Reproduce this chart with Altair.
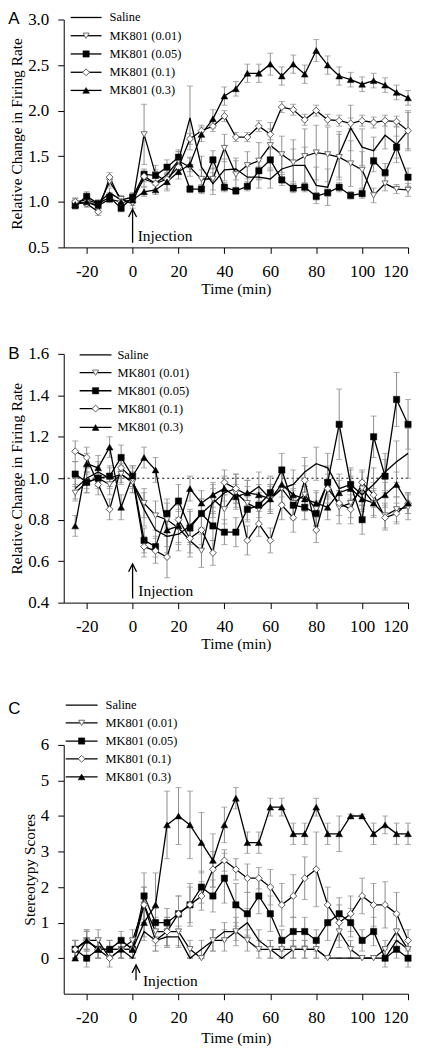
import altair as alt
import pandas as pd

SERIF = "Liberation Serif"
SANS = "Liberation Sans"
GRAY = "#8c8c8c"

TIME = [-25, -20, -15, -10, -5, 0, 5, 10, 15, 20, 25, 30, 35, 40, 45,
        50, 55, 60, 65, 70, 75, 80, 85, 90, 95, 100, 105, 110, 115, 120]
SERIES = ["Saline", "MK801 (0.01)", "MK801 (0.05)", "MK801 (0.1)", "MK801 (0.3)"]
X_TICKS = [-20, 0, 20, 40, 60, 80, 100, 120]

# ---------------- Panel A : relative change in firing rate ----------------
A_SAL = [1.00, 1.02, 0.98, 1.10, 1.02, 1.05, 1.25, 1.20, 1.30, 1.45, 1.92, 1.38, 1.20, 1.35, 1.36,
         1.27, 1.27, 1.25, 1.36, 1.40, 1.40, 1.18, 1.16, 1.52, 1.81, 1.60, 1.56, 1.73, 1.63, 1.78]
A_01 = [0.98, 1.00, 0.95, 1.22, 1.03, 0.98, 1.74, 1.30, 1.22, 1.45, 1.38, 1.25, 1.25, 1.59, 1.30,
        1.40, 1.45, 1.62, 1.52, 1.43, 1.50, 1.54, 1.52, 1.49, 1.42, 1.35, 1.07, 1.20, 1.14, 1.13]
A_05 = [0.96, 1.06, 0.98, 1.05, 0.93, 1.05, 1.30, 1.29, 1.38, 1.49, 1.14, 1.14, 1.46, 1.16, 1.12,
        1.17, 1.34, 1.46, 1.24, 1.15, 1.16, 1.06, 1.10, 1.16, 1.07, 1.09, 1.45, 1.32, 1.60, 1.27]
A_1 = [1.00, 0.98, 0.89, 1.27, 1.00, 1.00, 1.28, 1.20, 1.25, 1.38, 1.69, 1.78, 1.83, 1.94, 1.71,
       1.71, 1.83, 1.74, 2.04, 2.01, 1.90, 2.00, 1.90, 1.89, 1.86, 1.89, 1.87, 1.89, 1.88, 1.78]
A_3 = [0.97, 1.00, 0.96, 1.03, 1.00, 1.02, 1.11, 1.13, 1.22, 1.33, 1.41, 1.74, 1.91, 2.16, 2.24,
       2.41, 2.41, 2.51, 2.38, 2.51, 2.40, 2.66, 2.50, 2.38, 2.34, 2.29, 2.33, 2.28, 2.20, 2.14]
A_SAL_E = [0.04, 0.05, 0.04, 0.05, 0.04, 0.04, 0.08, 0.08, 0.10, 0.10, 0.35, 0.12, 0.12, 0.12, 0.12,
           0.12, 0.12, 0.10, 0.15, 0.18, 0.20, 0.20, 0.20, 0.25, 0.25, 0.20, 0.15, 0.15, 0.20, 0.22]
A_01_E = [0.05, 0.05, 0.04, 0.05, 0.04, 0.05, 0.33, 0.10, 0.10, 0.10, 0.10, 0.10, 0.12, 0.15, 0.15,
          0.15, 0.20, 0.25, 0.20, 0.25, 0.30, 0.30, 0.30, 0.25, 0.25, 0.20, 0.08, 0.08, 0.05, 0.07]
A_05_E = [0.04, 0.05, 0.04, 0.05, 0.04, 0.05, 0.06, 0.06, 0.08, 0.08, 0.04, 0.05, 0.10, 0.05, 0.04,
          0.05, 0.10, 0.12, 0.06, 0.05, 0.05, 0.04, 0.04, 0.05, 0.04, 0.05, 0.12, 0.10, 0.12, 0.10]
A_1_E = [0.04, 0.04, 0.04, 0.05, 0.04, 0.04, 0.06, 0.06, 0.06, 0.06, 0.06, 0.06, 0.06, 0.06, 0.05,
         0.05, 0.06, 0.06, 0.06, 0.06, 0.06, 0.06, 0.06, 0.06, 0.06, 0.06, 0.06, 0.06, 0.06, 0.20]
A_3_E = [0.04, 0.04, 0.04, 0.04, 0.04, 0.04, 0.05, 0.05, 0.08, 0.08, 0.08, 0.08, 0.10, 0.10, 0.08,
         0.10, 0.10, 0.12, 0.10, 0.10, 0.10, 0.12, 0.10, 0.10, 0.08, 0.08, 0.08, 0.08, 0.08, 0.08]

# ---------------- Panel B : relative change in firing rate ----------------
B_SAL = [0.95, 1.00, 1.03, 1.00, 1.02, 0.98, 0.85, 0.75, 0.72, 0.73, 0.77, 0.83, 0.88, 0.93, 0.95,
         0.92, 0.96, 0.90, 0.95, 0.97, 1.03, 1.07, 1.05, 0.95, 0.97, 0.92, 0.97, 1.03, 1.08, 1.12]
B_01 = [0.93, 0.98, 1.00, 0.97, 1.02, 0.98, 0.88, 0.82, 0.80, 0.76, 0.70, 0.65, 0.90, 0.85, 0.93,
        0.88, 0.85, 0.90, 0.95, 0.88, 0.92, 0.85, 0.98, 0.86, 0.88, 0.95, 0.88, 0.82, 0.85, 0.86]
B_05 = [1.02, 0.98, 1.00, 1.01, 1.10, 1.01, 0.70, 0.67, 0.83, 0.89, 0.76, 0.83, 0.77, 0.74, 0.74,
        0.85, 0.87, 0.93, 1.04, 0.87, 0.86, 0.83, 0.98, 1.26, 0.97, 0.80, 1.20, 1.01, 1.38, 1.26]
B_1 = [1.13, 1.10, 0.97, 0.85, 1.05, 1.00, 0.67, 0.65, 0.62, 0.80, 0.71, 0.75, 0.64, 0.98, 0.95,
       0.70, 0.78, 0.70, 0.87, 0.81, 0.99, 0.75, 0.95, 0.88, 0.85, 0.98, 0.92, 0.81, 0.83, 0.88]
B_3 = [0.77, 1.07, 1.05, 1.15, 0.86, 1.01, 1.10, 1.04, 0.75, 0.77, 0.95, 0.88, 0.92, 0.95, 0.91,
       0.93, 0.92, 0.90, 0.97, 0.92, 0.90, 0.88, 0.86, 0.93, 0.95, 0.90, 0.88, 0.92, 0.97, 0.88]
B_SAL_E = [0.05, 0.05, 0.05, 0.05, 0.05, 0.05, 0.08, 0.08, 0.08, 0.08, 0.08, 0.07, 0.07, 0.07, 0.07,
           0.07, 0.07, 0.07, 0.07, 0.07, 0.07, 0.08, 0.07, 0.07, 0.07, 0.07, 0.08, 0.09, 0.10, 0.12]
B_01_E = [0.04, 0.05, 0.04, 0.05, 0.04, 0.05, 0.07, 0.07, 0.08, 0.08, 0.08, 0.08, 0.07, 0.07, 0.07,
          0.08, 0.07, 0.07, 0.08, 0.07, 0.07, 0.08, 0.07, 0.08, 0.07, 0.08, 0.07, 0.06, 0.06, 0.06]
B_05_E = [0.06, 0.05, 0.05, 0.05, 0.06, 0.05, 0.06, 0.05, 0.07, 0.08, 0.08, 0.07, 0.07, 0.06, 0.07,
          0.06, 0.06, 0.08, 0.08, 0.07, 0.06, 0.06, 0.08, 0.17, 0.08, 0.07, 0.10, 0.08, 0.13, 0.12]
B_1_E = [0.05, 0.05, 0.05, 0.05, 0.05, 0.05, 0.05, 0.06, 0.10, 0.07, 0.07, 0.07, 0.06, 0.06, 0.07,
         0.07, 0.06, 0.06, 0.07, 0.07, 0.07, 0.06, 0.07, 0.06, 0.07, 0.06, 0.06, 0.06, 0.05, 0.05]
B_3_E = [0.05, 0.05, 0.06, 0.05, 0.06, 0.05, 0.05, 0.06, 0.08, 0.08, 0.06, 0.06, 0.06, 0.06, 0.06,
         0.06, 0.05, 0.06, 0.06, 0.05, 0.06, 0.06, 0.06, 0.06, 0.06, 0.06, 0.06, 0.06, 0.06, 0.05]

# ---------------- Panel C : stereotypy scores ----------------
C_SAL = [0.25, 0.50, 0.25, 0.25, 0.25, 0.00, 0.75, 0.50, 0.60, 0.60, 0.00, 0.25, 0.50, 0.75, 0.75,
         1.00, 0.50, 0.25, 0.00, 0.25, 0.25, 0.25, 0.00, 0.00, 0.00, 0.00, 0.00, 0.00, 0.50, 0.25]
C_01 = [0.25, 0.50, 0.50, 0.00, 0.25, 0.50, 1.50, 0.75, 0.75, 0.75, 0.25, 0.00, 0.50, 0.50, 0.75,
        0.50, 0.25, 0.25, 0.25, 0.25, 0.25, 0.25, 0.00, 0.75, 0.25, 0.00, 0.00, 0.25, 0.75, 0.25]
C_05 = [0.25, 0.00, 0.25, 0.25, 0.50, 0.25, 1.75, 1.00, 1.00, 1.25, 1.50, 2.00, 1.75, 2.25, 1.50,
        1.25, 1.75, 1.25, 0.50, 0.75, 0.75, 0.50, 1.00, 1.25, 1.00, 0.50, 0.75, 0.00, 0.25, 0.00]
C_1 = [0.25, 0.50, 0.25, 0.00, 0.25, 0.25, 1.50, 0.50, 0.75, 1.25, 1.50, 1.75, 2.50, 2.75, 2.50,
       2.25, 2.25, 2.00, 1.50, 1.75, 2.25, 2.50, 1.50, 1.00, 1.25, 1.75, 1.50, 1.50, 1.25, 0.50]
C_3 = [0.00, 0.50, 0.25, 0.25, 0.25, 0.25, 1.00, 1.50, 3.75, 4.00, 3.75, 3.25, 2.75, 3.75, 4.50,
       3.25, 3.25, 4.25, 4.25, 3.50, 3.50, 4.25, 3.50, 3.50, 4.00, 4.00, 3.50, 3.75, 3.50, 3.50]
C_SAL_E = [0.25, 0.30, 0.25, 0.25, 0.25, 0.00, 0.25, 0.30, 0.30, 0.30, 0.00, 0.25, 0.30, 0.25, 0.25,
           0.40, 0.30, 0.25, 0.00, 0.25, 0.25, 0.25, 0.00, 0.00, 0.00, 0.00, 0.00, 0.00, 0.30, 0.25]
C_01_E = [0.25, 0.30, 0.30, 0.00, 0.25, 0.30, 0.50, 0.40, 0.40, 0.40, 0.25, 0.00, 0.30, 0.30, 0.40,
          0.30, 0.25, 0.25, 0.25, 0.25, 0.25, 0.25, 0.00, 0.45, 0.25, 0.00, 0.00, 0.25, 0.45, 0.25]
C_05_E = [0.25, 0.25, 0.25, 0.25, 0.25, 0.25, 0.65, 0.40, 0.40, 0.50, 0.60, 0.45, 0.45, 0.70, 0.60,
          0.60, 0.50, 0.50, 0.30, 0.40, 0.40, 0.30, 0.50, 0.45, 0.40, 0.30, 0.40, 0.25, 0.25, 0.25]
C_1_E = [0.25, 0.25, 0.25, 0.25, 0.25, 0.25, 0.50, 0.30, 0.40, 0.50, 0.50, 0.40, 0.50, 0.30, 0.30,
         0.40, 0.30, 0.50, 0.60, 0.60, 0.60, 1.05, 0.50, 0.50, 0.50, 0.50, 0.60, 0.65, 0.60, 0.30]
C_3_E = [0.00, 0.25, 0.25, 0.25, 0.25, 0.25, 0.40, 0.90, 0.95, 0.80, 0.95, 0.85, 0.75, 0.50, 0.30,
         0.30, 0.30, 0.25, 0.25, 0.30, 0.30, 0.25, 0.30, 0.50, 0.05, 0.05, 0.30, 0.25, 0.30, 0.30]

# ---------------- annotation / legend anchors (data coordinates) ----------------
INJ_A = {"t": 0.0, "y0": 0.55, "y1": 0.92, "tt": 2.2, "ty": 0.63}
INJ_B = {"t": 0.0, "y0": 0.42, "y1": 0.587, "tt": 2.5, "ty": 0.455}
INJ_C = {"t": 1.5, "y0": -0.62, "y1": -0.19, "tt": 4.5, "ty": -0.63}
LETTER_A = {"t": -54.2, "y": 3.0, "label": "A"}
LETTER_B = {"t": -54.2, "y": 1.6, "label": "B"}
LETTER_C = {"t": -54.2, "y": 7.0, "label": "C"}
KEY_A = {"x0": -26.97, "x1": -13.53, "xm": -20.25, "xl": -10.06,
         "rows": [3.022, 2.822, 2.622, 2.421, 2.222]}
KEY_B = {"x0": -23.06, "x1": -9.19, "xm": -16.13, "xl": -6.59,
         "rows": [1.595, 1.509, 1.422, 1.336, 1.245]}
KEY_C = {"x0": -29.13, "x1": -15.26, "xm": -22.2, "xl": -11.79,
         "rows": [7.12, 6.62, 6.11, 5.61, 5.10]}
REF_B = [1.0]

# ---------------- styles ----------------
MARKERS = {
    "MK801 (0.01)": dict(shape="triangle-down", filled=True, fill="white", stroke="#6e6e6e", strokeWidth=1, size=38),
    "MK801 (0.05)": dict(shape="square", filled=True, fill="black", stroke="black", strokeWidth=0.5, size=40),
    "MK801 (0.1)": dict(shape="diamond", filled=True, fill="white", stroke="#5a5a5a", strokeWidth=1, size=48),
    "MK801 (0.3)": dict(shape="triangle-up", filled=True, fill="black", stroke="black", strokeWidth=0.5, size=46),
}


def long_frame(values, sems):
    rows = []
    for name, vals, errs in zip(SERIES, values, sems):
        for t, v, e in zip(TIME, vals, errs):
            rows.append({"t": t, "series": name, "v": v, "lo": v - e, "hi": v + e})
    return pd.DataFrame(rows)


def key_frame(key):
    return pd.DataFrame({"series": SERIES, "y": key["rows"],
                         "x0": [key["x0"]] * 5, "x1": [key["x1"]] * 5,
                         "xm": [key["xm"]] * 5, "xl": [key["xl"]] * 5})


def panel(df, ydom, yvals, yfmt, ytitle, h, inj, letter, key, ref=None, x_title_pad=2):
    xsc = alt.Scale(domain=[-30, 120], nice=False, zero=False)
    ysc = alt.Scale(domain=ydom, nice=False, zero=False)
    xax = alt.Axis(values=X_TICKS, title="Time (min)", labelExpr="datum.value + ''",
                   grid=False, tickSize=6, labelPadding=10, titlePadding=x_title_pad)
    yax = alt.Axis(values=yvals, title=ytitle, format=yfmt, grid=False,
                   tickSize=6, labelPadding=9, titlePadding=3)

    def X(f):
        return alt.X(f, type="quantitative", scale=xsc, axis=xax)

    def Y(f):
        return alt.Y(f, type="quantitative", scale=ysc, axis=yax)

    base = alt.Chart(df)
    layers = []
    if ref is not None:
        layers.append(alt.Chart(pd.DataFrame({"r": ref})).mark_rule(
            color="black", strokeWidth=1, strokeDash=[2, 3]).encode(y=Y("r")))
    layers.append(base.mark_rule(color=GRAY, strokeWidth=1).encode(
        x=X("t"), y=Y("lo"), y2=alt.Y2("hi")))
    layers.append(base.transform_fold(["lo", "hi"], as_=["which", "cap"]).mark_tick(
        color=GRAY, orient="horizontal", size=6, thickness=1).encode(
        x=X("t"), y=Y("cap:Q"), detail="series:N"))
    layers.append(base.mark_line(color="black", strokeWidth=1.3).encode(
        x=X("t"), y=Y("v"), detail="series:N", order="t:Q"))
    for name, style in MARKERS.items():
        layers.append(base.transform_filter(alt.datum.series == name).mark_point(
            opacity=1, **style).encode(x=X("t"), y=Y("v")))

    # key (legend) drawn inside the panel
    kd = alt.Chart(key_frame(key))
    layers.append(kd.mark_rule(color="black", strokeWidth=1.3).encode(
        x=X("x0"), x2=alt.X2("x1"), y=Y("y")))
    for name, style in MARKERS.items():
        layers.append(kd.transform_filter(alt.datum.series == name).mark_point(
            opacity=1, **style).encode(x=X("xm"), y=Y("y")))
    layers.append(kd.mark_text(align="left", baseline="middle", font=SERIF, fontSize=12.5,
                               color="black").encode(x=X("xl"), y=Y("y"), text="series:N"))

    inj_df = pd.DataFrame({"t": [inj["t"]], "y0": [inj["y0"]], "y1": [inj["y1"]],
                           "tt": [inj["tt"]], "ty": [inj["ty"]], "label": ["Injection"]})
    ia = alt.Chart(inj_df)
    layers.append(ia.mark_rule(color="black", strokeWidth=1.3).encode(
        x=X("t"), y=Y("y0"), y2=alt.Y2("y1")))
    layers.append(ia.mark_point(shape="M-1,2L0,0L1,2", filled=False, color="black",
                                strokeWidth=1.3, size=64, opacity=1).encode(x=X("t"), y=Y("y1")))
    layers.append(ia.mark_text(align="left", baseline="middle", font=SERIF, fontSize=15.5,
                               color="black").encode(x=X("tt"), y=Y("ty"), text="label:N"))
    let_df = pd.DataFrame([letter])
    layers.append(alt.Chart(let_df).mark_text(align="left", baseline="middle", font=SANS,
                                               fontSize=17, color="black").encode(
        x=X("t"), y=Y("y"), text="label:N"))

    return alt.layer(*layers).properties(width=346, height=h)


dfA = long_frame([A_SAL, A_01, A_05, A_1, A_3], [A_SAL_E, A_01_E, A_05_E, A_1_E, A_3_E])
dfB = long_frame([B_SAL, B_01, B_05, B_1, B_3], [B_SAL_E, B_01_E, B_05_E, B_1_E, B_3_E])
dfC = long_frame([C_SAL, C_01, C_05, C_1, C_3], [C_SAL_E, C_01_E, C_05_E, C_1_E, C_3_E])

pA = panel(dfA, [0.5, 3.0], [0.5, 1.0, 1.5, 2.0, 2.5, 3.0], ".1f",
           "Relative Change in Firing Rate", 229, INJ_A, LETTER_A, KEY_A)
pB = panel(dfB, [0.4, 1.6], [0.4, 0.6, 0.8, 1.0, 1.2, 1.4, 1.6], ".1f",
           "Relative Change in Firing Rate", 250, INJ_B, LETTER_B, KEY_B, ref=REF_B)
pC = panel(dfC, [-1, 6], [0, 1, 2, 3, 4, 5, 6], "d",
           "Stereotypy Scores", 250, INJ_C, LETTER_C, KEY_C, x_title_pad=5)

chart = alt.vconcat(pA, alt.vconcat(pB, pC, spacing=46), spacing=48).properties(
    padding={"left": 0, "top": 0, "right": 2, "bottom": 0},
    background="white",
).configure_view(stroke=None).configure_axis(
    labelFont=SERIF, labelFontSize=17, labelColor="black",
    titleFont=SERIF, titleFontSize=15.5, titleFontWeight="normal", titleColor="black",
    domainColor="black", tickColor="black", domainWidth=1, tickWidth=1,
)

chart.save("out.html", embed_options={"renderer": "svg", "actions": False})
